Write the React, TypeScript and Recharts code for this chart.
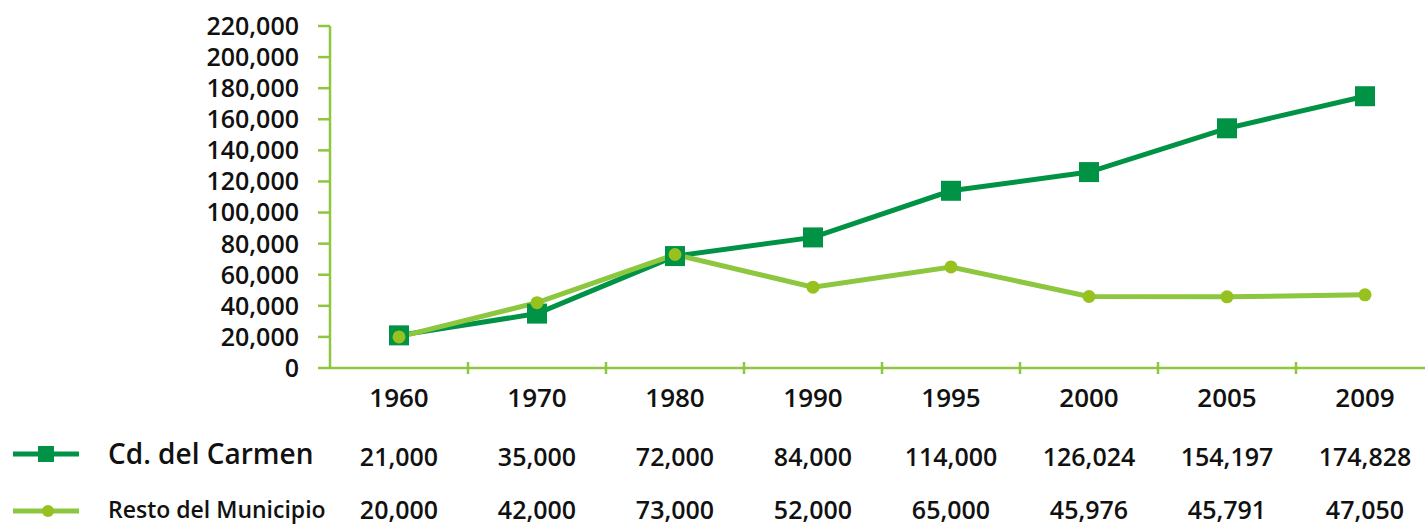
import { Line, LineChart, XAxis, YAxis } from "recharts"

const years = ["1960", "1970", "1980", "1990", "1995", "2000", "2005", "2009"]
const carmen = [21000, 35000, 72000, 84000, 114000, 126024, 154197, 174828]
const resto = [20000, 42000, 73000, 52000, 65000, 45976, 45791, 47050]
const yTicks = [0, 20000, 40000, 60000, 80000, 100000, 120000, 140000, 160000, 180000, 200000, 220000]

const DARK = "#009245"
const LIGHT = "#8DC63F"
const DOT = "#96C11F"
const FONT = "'Open Sans', sans-serif"

// layout
const CHART_W = 1440
const CHART_H = 430
const PLOT_LEFT = 330
const RIGHT = 6
const BAND = (CHART_W - PLOT_LEFT - RIGHT) / years.length

const fmt = (v: number) => v.toLocaleString("en-US")

const data = years.map((year, i) => ({ year, carmen: carmen[i], resto: resto[i] }))

function XTick(props: any) {
  const { x, y, payload, index } = props
  return (
    <g>
      <text
        x={x}
        y={y + 39}
        textAnchor="middle"
        fontFamily={FONT}
        fontWeight={600}
        fontSize={26}
        fill="#111"
      >
        {payload.value}
      </text>
      {index < years.length - 1 ? (
        <line x1={x + BAND / 2} x2={x + BAND / 2} y1={y - 6} y2={y + 6} stroke={LIGHT} strokeWidth={2.5} />
      ) : null}
    </g>
  )
}

function SquareDot(props: any) {
  const { cx, cy, index } = props
  return <rect key={`sq-${index}`} x={cx - 10} y={cy - 10} width={20} height={20} fill={DARK} />
}

export default function App() {
  const centers = years.map((_, i) => PLOT_LEFT + (i + 0.5) * BAND)
  return (
    <div
      style={{
        position: "absolute",
        left: 0,
        top: 0,
        width: 1425,
        height: 525,
        overflow: "hidden",
        background: "#fff",
      }}
    >
      <LineChart
        width={CHART_W}
        height={CHART_H}
        data={data}
        margin={{ top: 26, right: RIGHT, left: 0, bottom: 0 }}
      >
        <XAxis
          dataKey="year"
          height={62}
          padding={{ left: BAND / 2, right: BAND / 2 }}
          axisLine={{ stroke: LIGHT, strokeWidth: 2.5 }}
          tickLine={false}
          tickSize={0}
          tickMargin={0}
          tick={<XTick />}
          interval={0}
        />
        <YAxis
          width={PLOT_LEFT}
          domain={[0, 220000]}
          ticks={yTicks}
          interval={0}
          tickFormatter={fmt}
          axisLine={{ stroke: LIGHT, strokeWidth: 2.5 }}
          tickLine={{ stroke: LIGHT, strokeWidth: 2.5 }}
          tickSize={12}
          tickMargin={19}
          tick={{ fontFamily: FONT, fontWeight: 600, fontSize: 25, fill: "#111" }}
        />
        <Line
          dataKey="carmen"
          stroke={DARK}
          strokeWidth={5}
          dot={SquareDot}
          isAnimationActive={false}
        />
        <Line
          dataKey="resto"
          stroke={LIGHT}
          strokeWidth={5}
          dot={{ r: 6.5, fill: DOT, stroke: "none" }}
          isAnimationActive={false}
        />
      </LineChart>
      <svg width={1425} height={525} style={{ position: "absolute", left: 0, top: 0, pointerEvents: "none" }}>
        <line x1={13} x2={79} y1={454} y2={454} stroke={DARK} strokeWidth={5} />
        <rect x={38} y={446} width={16} height={16} fill={DARK} />
        <text x={108} y={464} fontFamily={FONT} fontWeight={600} fontSize={28} fill="#111">
          Cd. del Carmen
        </text>
        <line x1={13} x2={79} y1={511} y2={511} stroke={LIGHT} strokeWidth={5} />
        <circle cx={48} cy={511} r={6} fill={DOT} />
        <text x={108} y={518} fontFamily={FONT} fontWeight={600} fontSize={23} fill="#111">
          Resto del Municipio
        </text>
        {carmen.map((v, i) => (
          <text key={`c${i}`} x={centers[i]} y={466} textAnchor="middle" fontFamily={FONT} fontWeight={600} fontSize={25} fill="#111">
            {fmt(v)}
          </text>
        ))}
        {resto.map((v, i) => (
          <text key={`r${i}`} x={centers[i]} y={519} textAnchor="middle" fontFamily={FONT} fontWeight={600} fontSize={25} fill="#111">
            {fmt(v)}
          </text>
        ))}
      </svg>
    </div>
  )
}
